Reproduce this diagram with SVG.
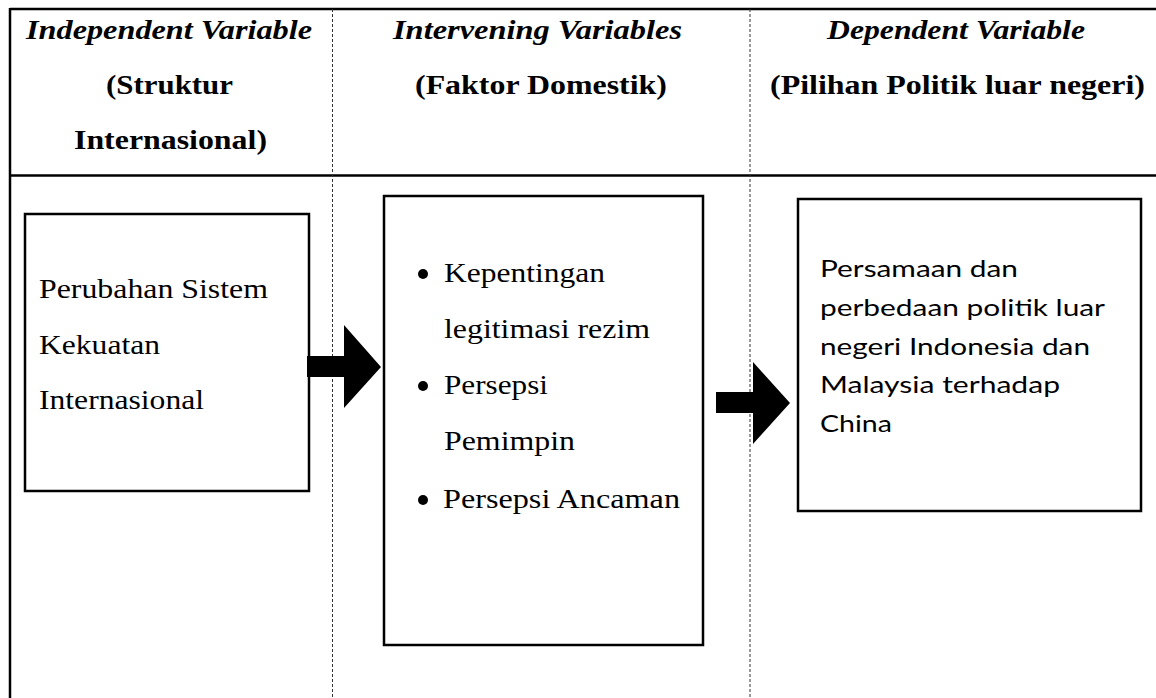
<svg xmlns="http://www.w3.org/2000/svg" width="1156" height="698" viewBox="0 0 1156 698">
<style>
.hd{font-family:"Liberation Serif",serif;font-size:28px;font-weight:bold;fill:#000}
.it{font-style:italic}
.tm{font-family:"Liberation Serif",serif;font-size:28px;fill:#000}
.sn{font-family:Lato,"Open Sans",sans-serif;font-size:24px;fill:#000}
.box{fill:#fff;stroke:#000;stroke-width:2.5}
.dash{stroke:#333;stroke-width:1;stroke-dasharray:3 2;fill:none}
.solid{stroke:#000;stroke-width:2.5;fill:none}
.arr{fill:#000}
.bul{fill:#000}
</style>
<rect width="1156" height="698" fill="#fff"/>
<g id="table">
<line class="solid" x1="10" y1="9" x2="1160" y2="9"/>
<line class="solid" x1="10" y1="175.5" x2="1160" y2="175.5"/>
<line class="solid" x1="10" y1="8" x2="10" y2="698"/>
<line class="dash" x1="332.5" y1="9" x2="332.5" y2="698"/>
<line class="dash" x1="750" y1="9" x2="750" y2="698"/>
</g>
<g id="headers">
<text class="hd it" x="26" y="39" textLength="286" lengthAdjust="spacingAndGlyphs">Independent Variable</text>
<text class="hd" x="106" y="94" textLength="127" lengthAdjust="spacingAndGlyphs">(Struktur</text>
<text class="hd" x="74" y="149" textLength="193" lengthAdjust="spacingAndGlyphs">Internasional)</text>
<text class="hd it" x="393" y="39" textLength="289" lengthAdjust="spacingAndGlyphs">Intervening Variables</text>
<text class="hd" x="415" y="94" textLength="252" lengthAdjust="spacingAndGlyphs">(Faktor Domestik)</text>
<text class="hd it" x="827" y="39" textLength="258" lengthAdjust="spacingAndGlyphs">Dependent Variable</text>
<text class="hd" x="770" y="94" textLength="375" lengthAdjust="spacingAndGlyphs">(Pilihan Politik luar negeri)</text>
</g>
<g id="node-independent">
<rect class="box" x="25" y="214" width="284" height="277"/>
<text class="tm" x="39" y="298" textLength="229" lengthAdjust="spacingAndGlyphs">Perubahan Sistem</text>
<text class="tm" x="39" y="354" textLength="121" lengthAdjust="spacingAndGlyphs">Kekuatan</text>
<text class="tm" x="39" y="409" textLength="165" lengthAdjust="spacingAndGlyphs">Internasional</text>
</g>
<g id="node-intervening">
<rect class="box" x="384" y="196" width="319" height="449"/>
<circle class="bul" cx="423" cy="274" r="5"/>
<text class="tm" x="444" y="282" textLength="161" lengthAdjust="spacingAndGlyphs">Kepentingan</text>
<text class="tm" x="444" y="338" textLength="206" lengthAdjust="spacingAndGlyphs">legitimasi rezim</text>
<circle class="bul" cx="423" cy="386" r="5"/>
<text class="tm" x="444" y="394" textLength="104" lengthAdjust="spacingAndGlyphs">Persepsi</text>
<text class="tm" x="444" y="450" textLength="131" lengthAdjust="spacingAndGlyphs">Pemimpin</text>
<circle class="bul" cx="423" cy="500" r="5"/>
<text class="tm" x="443" y="508" textLength="237" lengthAdjust="spacingAndGlyphs">Persepsi Ancaman</text>
</g>
<g id="node-dependent">
<rect class="box" x="798" y="199" width="343" height="312" stroke="#222"/>
<text class="sn" x="820" y="277" textLength="198" lengthAdjust="spacingAndGlyphs">Persamaan dan</text>
<text class="sn" x="820" y="316" textLength="285" lengthAdjust="spacingAndGlyphs">perbedaan politik luar</text>
<text class="sn" x="820" y="355" textLength="270" lengthAdjust="spacingAndGlyphs">negeri Indonesia dan</text>
<text class="sn" x="820" y="393" textLength="240" lengthAdjust="spacingAndGlyphs">Malaysia terhadap</text>
<text class="sn" x="820" y="432" textLength="72" lengthAdjust="spacingAndGlyphs">China</text>
</g>
<g id="connectors">
<polygon class="arr" points="307,356 344,356 344,325 381,367 344,408 344,377 307,377"/>
<polygon class="arr" points="716,392 753,392 753,362 790,403 753,444 753,413 716,413"/>
</g>
</svg>
